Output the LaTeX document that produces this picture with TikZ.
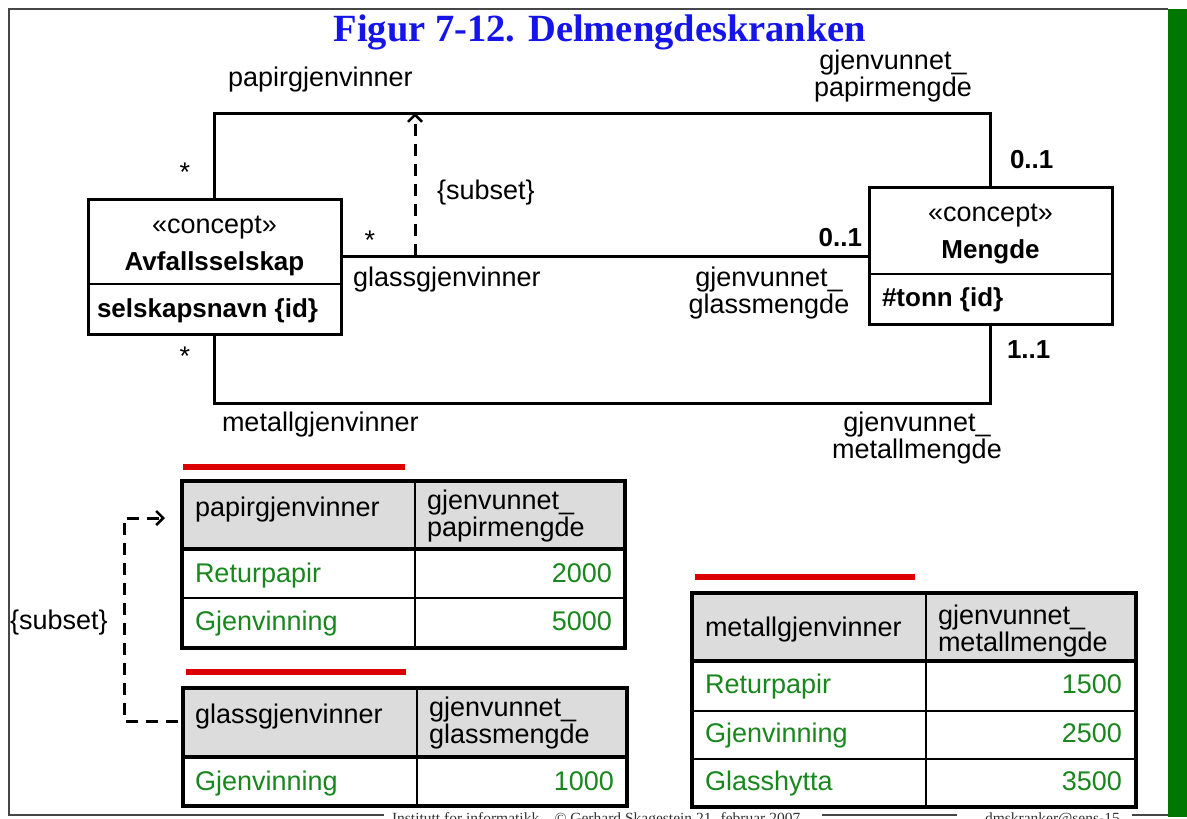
\documentclass[tikz,border=0pt]{standalone}
\usepackage{fontspec}
\setmainfont{Liberation Sans}
\newfontfamily\serifft{Liberation Serif}
\usetikzlibrary{arrows.meta}
\definecolor{titleblue}{RGB}{20,20,235}
\definecolor{datagreen}{RGB}{25,135,30}
\definecolor{bargreen}{RGB}{0,120,0}
\definecolor{hdrgray}{RGB}{220,220,220}
\definecolor{redbar}{RGB}{220,0,0}
\definecolor{framegray}{RGB}{70,70,70}
\newcommand\lblfont{\fontsize{27}{25}\selectfont}
\newcommand\boldlbl{\fontsize{26}{25}\selectfont\bfseries}
\begin{document}
\begin{tikzpicture}[x=1pt,y=-1pt,
  txt/.style={inner sep=0pt, outer sep=0pt, font=\lblfont},
  btxt/.style={inner sep=0pt, outer sep=0pt, font=\boldlbl},
  gtxt/.style={inner sep=0pt, outer sep=0pt, font=\lblfont, text=datagreen},
  umlbox/.style={draw, line width=3pt, rectangle, inner sep=0pt, outer sep=0pt, anchor=north west},
  assoc/.style={line width=3pt},
  divider/.style={line width=1.8pt},
  dashconn/.style={line width=3pt, dash pattern=on 12pt off 8pt},
  tip/.style={-{Straight Barb[length=7pt,width=14pt,line width=2.5pt]}},
  tblout/.style={draw, line width=4pt, rectangle, inner sep=0pt, outer sep=0pt, anchor=north west},
  tblline/.style={line width=2pt},
  hdrline/.style={line width=3.5pt},
  redline/.style={draw=redbar, line width=6pt},
  frameline/.style={draw=framegray, line width=2pt},
  footer/.style={inner sep=0pt, outer sep=0pt, font=\serifft\fontsize{15.5}{17}\selectfont, text=black!80},
]
\useasboundingbox (0,0) rectangle (1187,819);
\fill[white] (0,0) rectangle (1187,819);

% frame and green bar
\fill[bargreen] (1168,9) rectangle (1187,817);
\node[footer, anchor=base west] (foot1) at (392,823) {Institutt for informatikk – © Gerhard Skagestein 21. februar 2007};
\node[footer, anchor=base west] (foot2) at (985,823) {dmskranker@sens-15};
\draw[frameline] (1168,9) -- (9,9) -- (9,815) -- (384,815);
\draw[frameline] (822,815) -- (957,815);
\draw[frameline] (1132,815) -- (1168,815);

% title
\node[inner sep=0pt, font=\serifft\bfseries\fontsize{38.5}{40}\selectfont, text=titleblue] (title) at (600,32) {Figur 7-12. Delmengdeskranken};

% UML classes
\node[umlbox, minimum width=253pt, minimum height=135pt] (avf) at (88,199) {};
\draw[divider] (88,284) -- (341,284);
\node[txt] (avfst) at (214.5,228) {«concept»};
\node[btxt] (avfname) at (214.5,264) {Avfallsselskap};
\node[btxt, anchor=west] (avfattr) at (97,311) {selskapsnavn \{id\}};

\node[umlbox, minimum width=243pt, minimum height=137pt] (men) at (869,187) {};
\draw[divider] (869,274) -- (1112,274);
\node[txt] (menst) at (990.5,216) {«concept»};
\node[btxt] (menname) at (990.5,252) {Mengde};
\node[btxt, anchor=west] (menattr) at (882,300) {\#tonn \{id\}};

% associations
\coordinate (ptop) at (415,113);
\coordinate (gl) at (415,256);
\coordinate (pbot) at (415,403);
\draw[assoc] (avf.north) |- (ptop) -| (men.north);
\draw[assoc] (gl -| avf.east) -- (gl -| men.west);
\draw[assoc] (avf.south) |- (pbot) -| (men.south);
\draw[dashconn, tip] (gl) -- (ptop);

% association labels
\node[txt, anchor=west] (lpap) at (228,80) {papirgjenvinner};
\node[txt, align=center] (lpapm) at (893,76) {gjenvunnet\_\\papirmengde};
\node[txt] (m1) at (185,172) {*};
\node[txt, anchor=west] (lsub) at (437,193) {\{subset\}};
\node[txt] (m2) at (370,240) {*};
\node[txt, anchor=west] (lgl) at (353,280) {glassgjenvinner};
\node[btxt, anchor=east] (m3) at (862,238) {0..1};
\node[btxt, anchor=west] (m4) at (1010,160) {0..1};
\node[txt, align=center] (lglm) at (769,293) {gjenvunnet\_\\glassmengde};
\node[txt] (m5) at (185,356) {*};
\node[btxt, anchor=west] (m6) at (1007,350) {1..1};
\node[txt, anchor=west] (lmet) at (222,425) {metallgjenvinner};
\node[txt, align=center] (lmetm) at (917,438) {gjenvunnet\_\\metallmengde};

% red marks
\draw[redline] (183,467) -- (405,467);
\draw[redline] (186,672) -- (406,672);
\draw[redline] (695,577) -- (915,577);

% table 1
\fill[hdrgray] (182,481) rectangle (625,549);
\draw[hdrline] (182,549) -- (625,549);
\draw[tblline] (182,598) -- (625,598);
\draw[tblline] (415,481) -- (415,648);
\node[tblout, minimum width=443pt, minimum height=167pt] (t1) at (182,481) {};
\node[txt, anchor=west] (t1h1) at (195,510) {papirgjenvinner};
\node[txt, anchor=west, align=left] (t1h2) at (427,516) {gjenvunnet\_\\papirmengde};
\node[gtxt, anchor=base west] (t1a) at (195,582) {Returpapir};
\node[gtxt, anchor=base east] (t1b) at (612,582) {2000};
\node[gtxt, anchor=base west] (t1c) at (195,630) {Gjenvinning};
\node[gtxt, anchor=base east] (t1d) at (612,630) {5000};

% table 2
\fill[hdrgray] (183,688) rectangle (627,757);
\draw[hdrline] (183,757) -- (627,757);
\draw[tblline] (417,688) -- (417,806);
\node[tblout, minimum width=444pt, minimum height=118pt] (t2) at (183,688) {};
\node[txt, anchor=west] (t2h1) at (195,717) {glassgjenvinner};
\node[txt, anchor=west, align=left] (t2h2) at (429,723) {gjenvunnet\_\\glassmengde};
\node[gtxt, anchor=base west] (t2a) at (195,790) {Gjenvinning};
\node[gtxt, anchor=base east] (t2b) at (614,790) {1000};

% table 3
\fill[hdrgray] (692,593) rectangle (1136,661);
\draw[hdrline] (692,661) -- (1136,661);
\draw[tblline] (692,711) -- (1136,711);
\draw[tblline] (692,759) -- (1136,759);
\draw[tblline] (926,593) -- (926,807);
\node[tblout, minimum width=444pt, minimum height=214pt] (t3) at (692,593) {};
\node[txt, anchor=west] (t3h1) at (705,630) {metallgjenvinner};
\node[txt, anchor=west, align=left] (t3h2) at (938,631) {gjenvunnet\_\\metallmengde};
\node[gtxt, anchor=base west] (t3a) at (705,693) {Returpapir};
\node[gtxt, anchor=base east] (t3b) at (1122,693) {1500};
\node[gtxt, anchor=base west] (t3c) at (705,742) {Gjenvinning};
\node[gtxt, anchor=base east] (t3d) at (1122,742) {2500};
\node[gtxt, anchor=base west] (t3e) at (705,790) {Glasshytta};
\node[gtxt, anchor=base east] (t3f) at (1122,790) {3500};

% subset between tables
\coordinate (s1) at (165,518);
\coordinate (s2) at (178,721);
\coordinate (sx) at (124,620);
\draw[dashconn, tip] (s2) -- (s2 -| sx) -- (s1 -| sx) -- (s1);
\node[txt, anchor=west] (lsub2) at (10,623) {\{subset\}};
\end{tikzpicture}
\end{document}
